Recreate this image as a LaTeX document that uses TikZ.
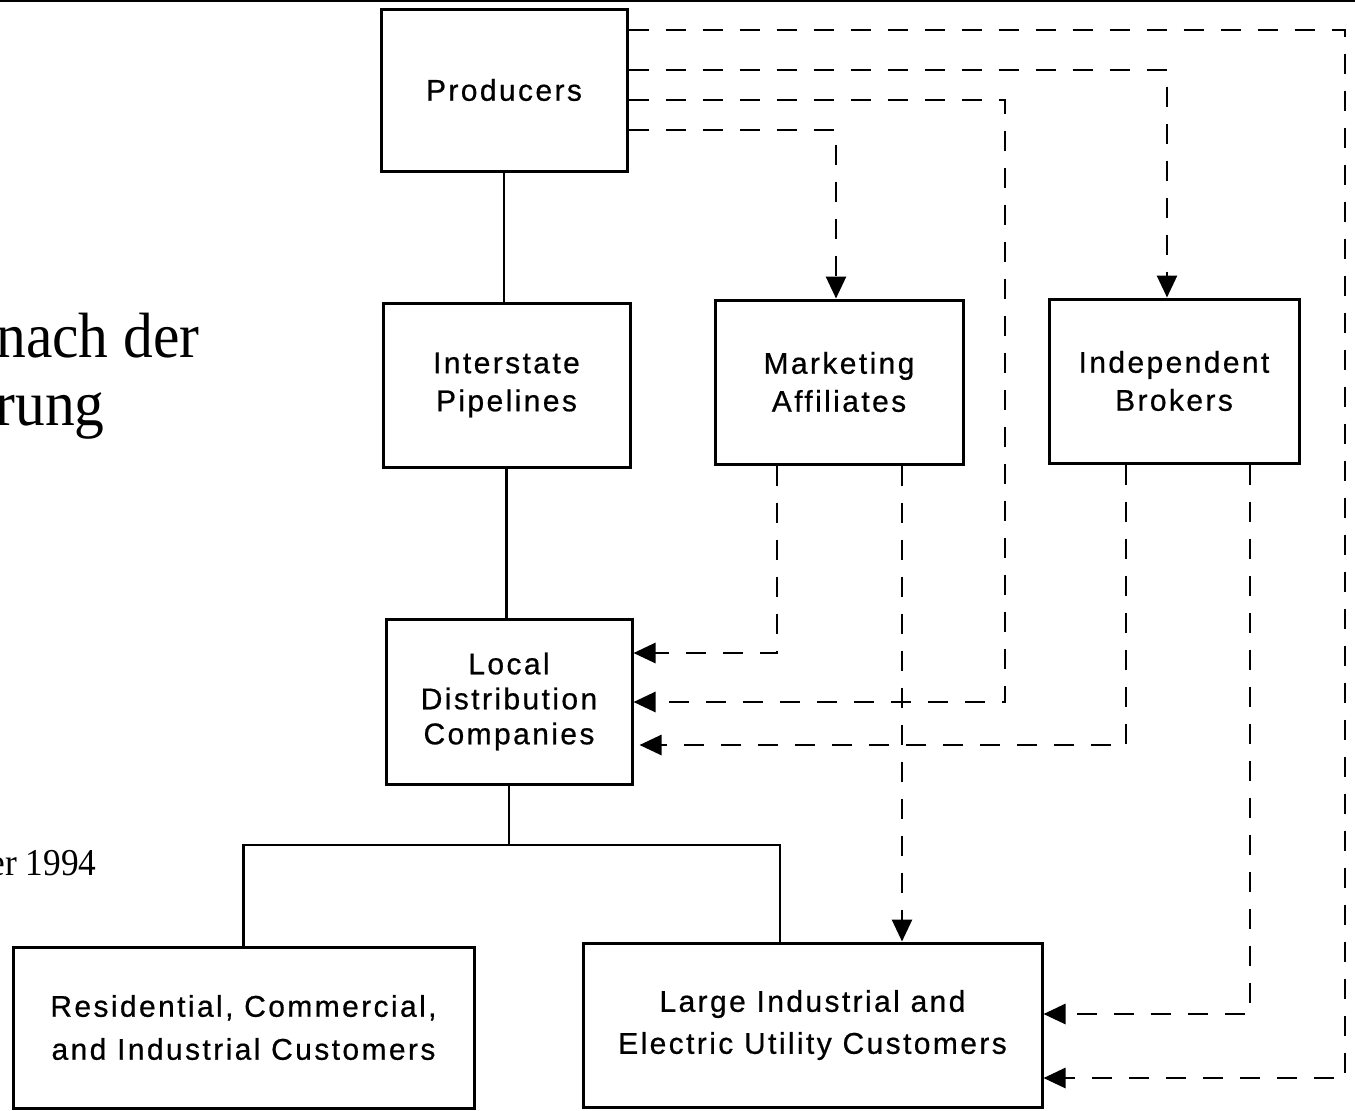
\documentclass[tikz,border=0pt]{standalone}
\usepackage{fontspec}
\setmainfont{Liberation Serif}
\newfontfamily\boxfont[LetterSpace=8,FakeBold=0.6]{Liberation Sans}
\newfontfamily\slidefont[FakeStretch=0.93]{Liberation Serif}
\usetikzlibrary{arrows.meta}
\tikzset{
  box/.style={draw, line width=1.5pt, inner sep=0pt, align=center,
    font=\boxfont\fontsize{15}{19}\selectfont},
  solidline/.style={line width=1.4pt},
  dsh/.style={line width=1.4pt, dash pattern=on 10pt off 8.5pt,
    -{Triangle[length=11pt,width=10pt]}},
  bgtext/.style={inner sep=0pt, anchor=base east}
}
\begin{document}
\begin{tikzpicture}[x=0.5pt,y=-0.5pt]
\useasboundingbox (0,0) rectangle (1355,1110);
\clip (0,0) rectangle (1355,1110);
\fill[white] (0,0) rectangle (1355,1110);
% scan border
\draw[line width=1pt] (0,1) -- (1355,1);
% background slide text
\node[bgtext, font=\slidefont\fontsize{32}{36}\selectfont] (t1) at (200,357) {nach der};
\node[bgtext, font=\slidefont\fontsize{32}{36}\selectfont] (t2) at (105,425) {rung};
\node[bgtext, font=\slidefont\fontsize{19}{24}\selectfont] (t3) at (97,875) {er 1994};
% boxes
\node[box, minimum width=123pt, minimum height=81pt] (prod) at (504,90) {Producers};
\node[box, minimum width=123.5pt, minimum height=82pt] (pipe) at (506.5,385) {Interstate\\Pipelines};
\node[box, minimum width=124pt, minimum height=82pt] (mkt) at (839,382) {Marketing\\Affiliates};
\node[box, minimum width=125pt, minimum height=82pt] (brk) at (1174,381) {Independent\\Brokers};
\node[box, minimum width=123pt, minimum height=82.5pt, font=\boxfont\fontsize{15}{17.5}\selectfont] (ldc) at (509,701.5) {Local\\Distribution\\Companies};
\node[box, minimum width=230.5pt, minimum height=80.5pt, font=\boxfont\fontsize{15}{21.5}\selectfont] (res) at (243.5,1027.5) {Residential, Commercial,\\and Industrial Customers};
\node[box, minimum width=229.5pt, minimum height=82pt, font=\boxfont\fontsize{15}{21}\selectfont] (lic) at (812.5,1025) {Large Industrial and\\Electric Utility Customers};
% solid connectors
\draw[solidline] (prod.south) -- (prod.south |- pipe.north);
\draw[solidline] (pipe.south) -- (pipe.south |- ldc.north);
\draw[solidline] (ldc.south) -- (ldc.south |- 0,845);
\draw[solidline] (res.north) -- (res.north |- 0,845) -- (780,845) -- (lic.north -| 780,0);
% dashed connectors from producers
\draw[dsh] (prod.east |- 0,30) -| (1345,1078) -- (lic.east |- 0,1078);
\draw[dsh] (prod.east |- 0,70) -| (brk.north -| 1167,0);
\draw[dsh] (prod.east |- 0,100) -| (1005,702) -- (ldc.east |- 0,702);
\draw[dsh] (prod.east |- 0,130) -| (mkt.north -| 836,0);
% from marketing affiliates
\draw[dsh] (mkt.south -| 777,0) |- (ldc.east |- 0,653);
\draw[dsh] (mkt.south -| 902,0) -- (lic.north -| 902,0);
% from independent brokers
\draw[dsh] (brk.south -| 1126,0) |- ([xshift=3pt]ldc.east |- 0,745);
\draw[dsh] (brk.south -| 1250,0) |- (lic.east |- 0,1014);
\end{tikzpicture}
\end{document}
